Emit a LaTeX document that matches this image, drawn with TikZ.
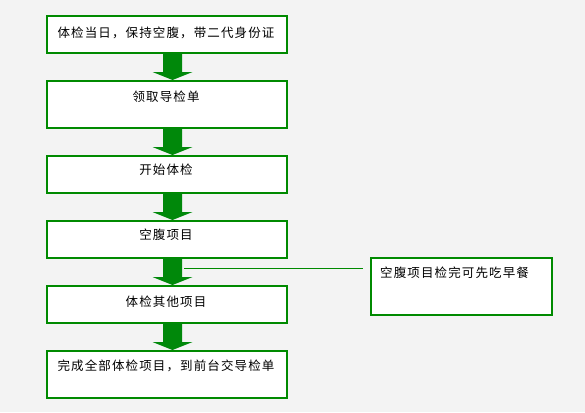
\documentclass[tikz,border=0pt]{standalone}
\usepackage{fontspec}
\newfontfamily\cjk[LetterSpace=9]{Noto Sans CJK SC}
\usetikzlibrary{shadows}
\definecolor{bg}{HTML}{F3F3F3}
\definecolor{boxgreen}{HTML}{008A00}
\definecolor{arrgreen}{HTML}{00880A}
\tikzset{
  x=1pt, y=-1pt,
  stepbox/.style={draw=boxgreen, line width=1.6pt, fill=white, minimum width=240pt,
    anchor=north west, inner sep=0pt,
    drop shadow={shadow xshift=1.5pt, shadow yshift=-1.5pt, fill=black!30, opacity=1}},
  notebox/.style={draw=boxgreen, line width=1.6pt, fill=white, minimum width=181pt,
    minimum height=57pt, anchor=north west, inner sep=0pt},
  txt/.style={font=\cjk\fontsize{12.5pt}{14pt}\selectfont, text=black, inner sep=0pt},
  bigarrow/.style={fill=arrgreen, draw=none},
  link/.style={draw=boxgreen, line width=1pt}
}
\newcommand{\flowarrow}[2]{%
  % #1 = top y, #2 = tip y
  \fill[bigarrow] (163,#1) -- (182,#1) -- (182,#2-8) -- (192.5,#2-8) -- (172.5,#2) -- (152.5,#2-8) -- (163,#2-8) -- cycle;}
\begin{document}
\begin{tikzpicture}
\useasboundingbox[fill=bg] (0,0) rectangle (585,412);
% boxes
\node[stepbox, minimum height=37pt] (b1) at (46,15) {};
\node[stepbox, minimum height=47pt] (b2) at (46,80) {};
\node[stepbox, minimum height=37pt] (b3) at (46,155) {};
\node[stepbox, minimum height=37pt] (b4) at (46,220) {};
\node[stepbox, minimum height=37pt] (b5) at (46,285) {};
\node[stepbox, minimum height=47pt] (b6) at (46,350) {};
\node[notebox] (n1) at (370,257) {};
% texts
\node[txt] (t1) at (166,33) {体检当日，保持空腹，带二代身份证};
\node[txt] (t2) at (166,97) {领取导检单};
\node[txt] (t3) at (166,170) {开始体检};
\node[txt] (t4) at (166,235) {空腹项目};
\node[txt] (t5) at (166,302) {体检其他项目};
\node[txt] (t6) at (166,366) {完成全部体检项目，到前台交导检单};
\node[txt, anchor=west] (t7) at (380,273) {空腹项目检完可先吃早餐};
% arrows
\flowarrow{53}{80}
\flowarrow{128}{155}
\flowarrow{193}{220}
\flowarrow{258}{285}
\flowarrow{323}{350}
% connector
\coordinate (c1) at (184,268);
\coordinate (c2) at (363,268);
\draw[link] (c1) -- (c2);
\end{tikzpicture}
\end{document}
